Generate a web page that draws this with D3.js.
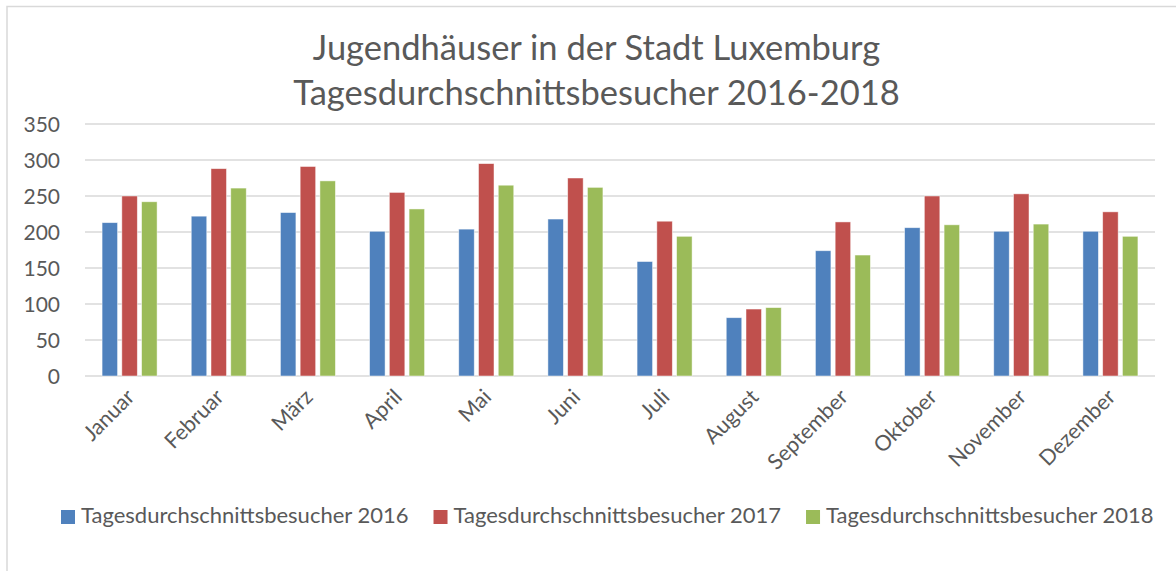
<!DOCTYPE html>
<html>
<head>
<meta charset="utf-8">
<script src="https://cdn.jsdelivr.net/npm/d3@7"></script>
<style>
  html, body { margin: 0; padding: 0; background: #fff; }
  svg { display: block; }
  text { font-family: Lato, "Open Sans", sans-serif; fill: #595959; }
</style>
</head>
<body>
<svg id="chart" width="1176" height="571"></svg>
<script>
const titleLines = ["Jugendhäuser in der Stadt Luxemburg", "Tagesdurchschnittsbesucher 2016-2018"];
const months = ["Januar", "Februar", "März", "April", "Mai", "Juni", "Juli", "August", "September", "Oktober", "November", "Dezember"];
const seriesNames = ["Tagesdurchschnittsbesucher 2016", "Tagesdurchschnittsbesucher 2017", "Tagesdurchschnittsbesucher 2018"];
const values2016 = [213, 222, 227, 201, 204, 218, 159, 81, 174, 206, 201, 201];
const values2017 = [250, 288, 291, 255, 295, 275, 215, 93, 214, 250, 253, 228];
const values2018 = [242, 261, 271, 232, 265, 262, 194, 95, 168, 210, 211, 194];
const yTicks = [0, 50, 100, 150, 200, 250, 300, 350];
const colors = ["#4F81BD", "#C0504D", "#9BBB59"];

const seriesValues = [values2016, values2017, values2018];
const svg = d3.select("#chart");

// outer chart border
svg.append("rect")
  .attr("x", 7).attr("y", 6.5)
  .attr("width", 1200).attr("height", 600)
  .attr("fill", "none").attr("stroke", "#d9d9d9").attr("stroke-width", 1.5);

const plot = { left: 85, right: 1155, top: 124, bottom: 376 };

const y = d3.scaleLinear().domain([0, 350]).range([plot.bottom, plot.top]);
const x0 = d3.scaleBand().domain(months).range([plot.left, plot.right])
  .paddingInner(0.383).paddingOuter(0.1915);
const x1 = d3.scaleBand().domain(seriesNames).range([0, x0.bandwidth()])
  .paddingInner(0.215).paddingOuter(0);

// gridlines
svg.append("g").selectAll("line").data(yTicks).join("line")
  .attr("x1", plot.left).attr("x2", plot.right)
  .attr("y1", d => y(d)).attr("y2", d => y(d))
  .attr("stroke", "#d9d9d9").attr("stroke-width", 1.5);

// y tick labels
svg.append("g").selectAll("text").data(yTicks).join("text")
  .attr("x", 60).attr("y", d => y(d))
  .attr("dy", "0.36em")
  .attr("text-anchor", "end")
  .style("font-size", "21px")
  .text(d => d);

// bars
const groups = svg.append("g").selectAll("g").data(months).join("g")
  .attr("transform", d => `translate(${x0(d)},0)`);
groups.selectAll("rect")
  .data((m, i) => seriesNames.map((s, si) => ({ s, si, v: seriesValues[si][i] })))
  .join("rect")
  .attr("x", d => x1(d.s))
  .attr("width", x1.bandwidth())
  .attr("y", d => y(d.v))
  .attr("height", d => y(0) - y(d.v))
  .attr("fill", d => colors[d.si])
  .attr("stroke", "#ffffff").attr("stroke-opacity", 0.6).attr("stroke-width", 0.8);

// category labels
svg.append("g").selectAll("text").data(months).join("text")
  .attr("transform", d => `translate(${x0(d) + x0.bandwidth() / 2 + 1},${plot.bottom + 17}) rotate(-45)`)
  .attr("text-anchor", "end")
  .attr("dy", "0.35em")
  .style("font-size", "21.5px")
  .text(d => d);

// title
svg.append("g").selectAll("text").data(titleLines).join("text")
  .attr("x", 596.5)
  .attr("y", (d, i) => 60 + i * 44.5)
  .attr("text-anchor", "middle")
  .style("font-size", "34.5px")
  .text(d => d);

// legend
const legend = svg.append("g");
let lx = 61;
seriesNames.forEach((name, i) => {
  legend.append("rect")
    .attr("x", lx).attr("y", 510)
    .attr("width", 14).attr("height", 14)
    .attr("fill", colors[i]);
  const t = legend.append("text")
    .attr("x", lx + 20).attr("y", 523)
    .style("font-size", "22px")
    .text(name);
  lx += 20 + t.node().getComputedTextLength() + 25;
});
</script>
</body>
</html>
